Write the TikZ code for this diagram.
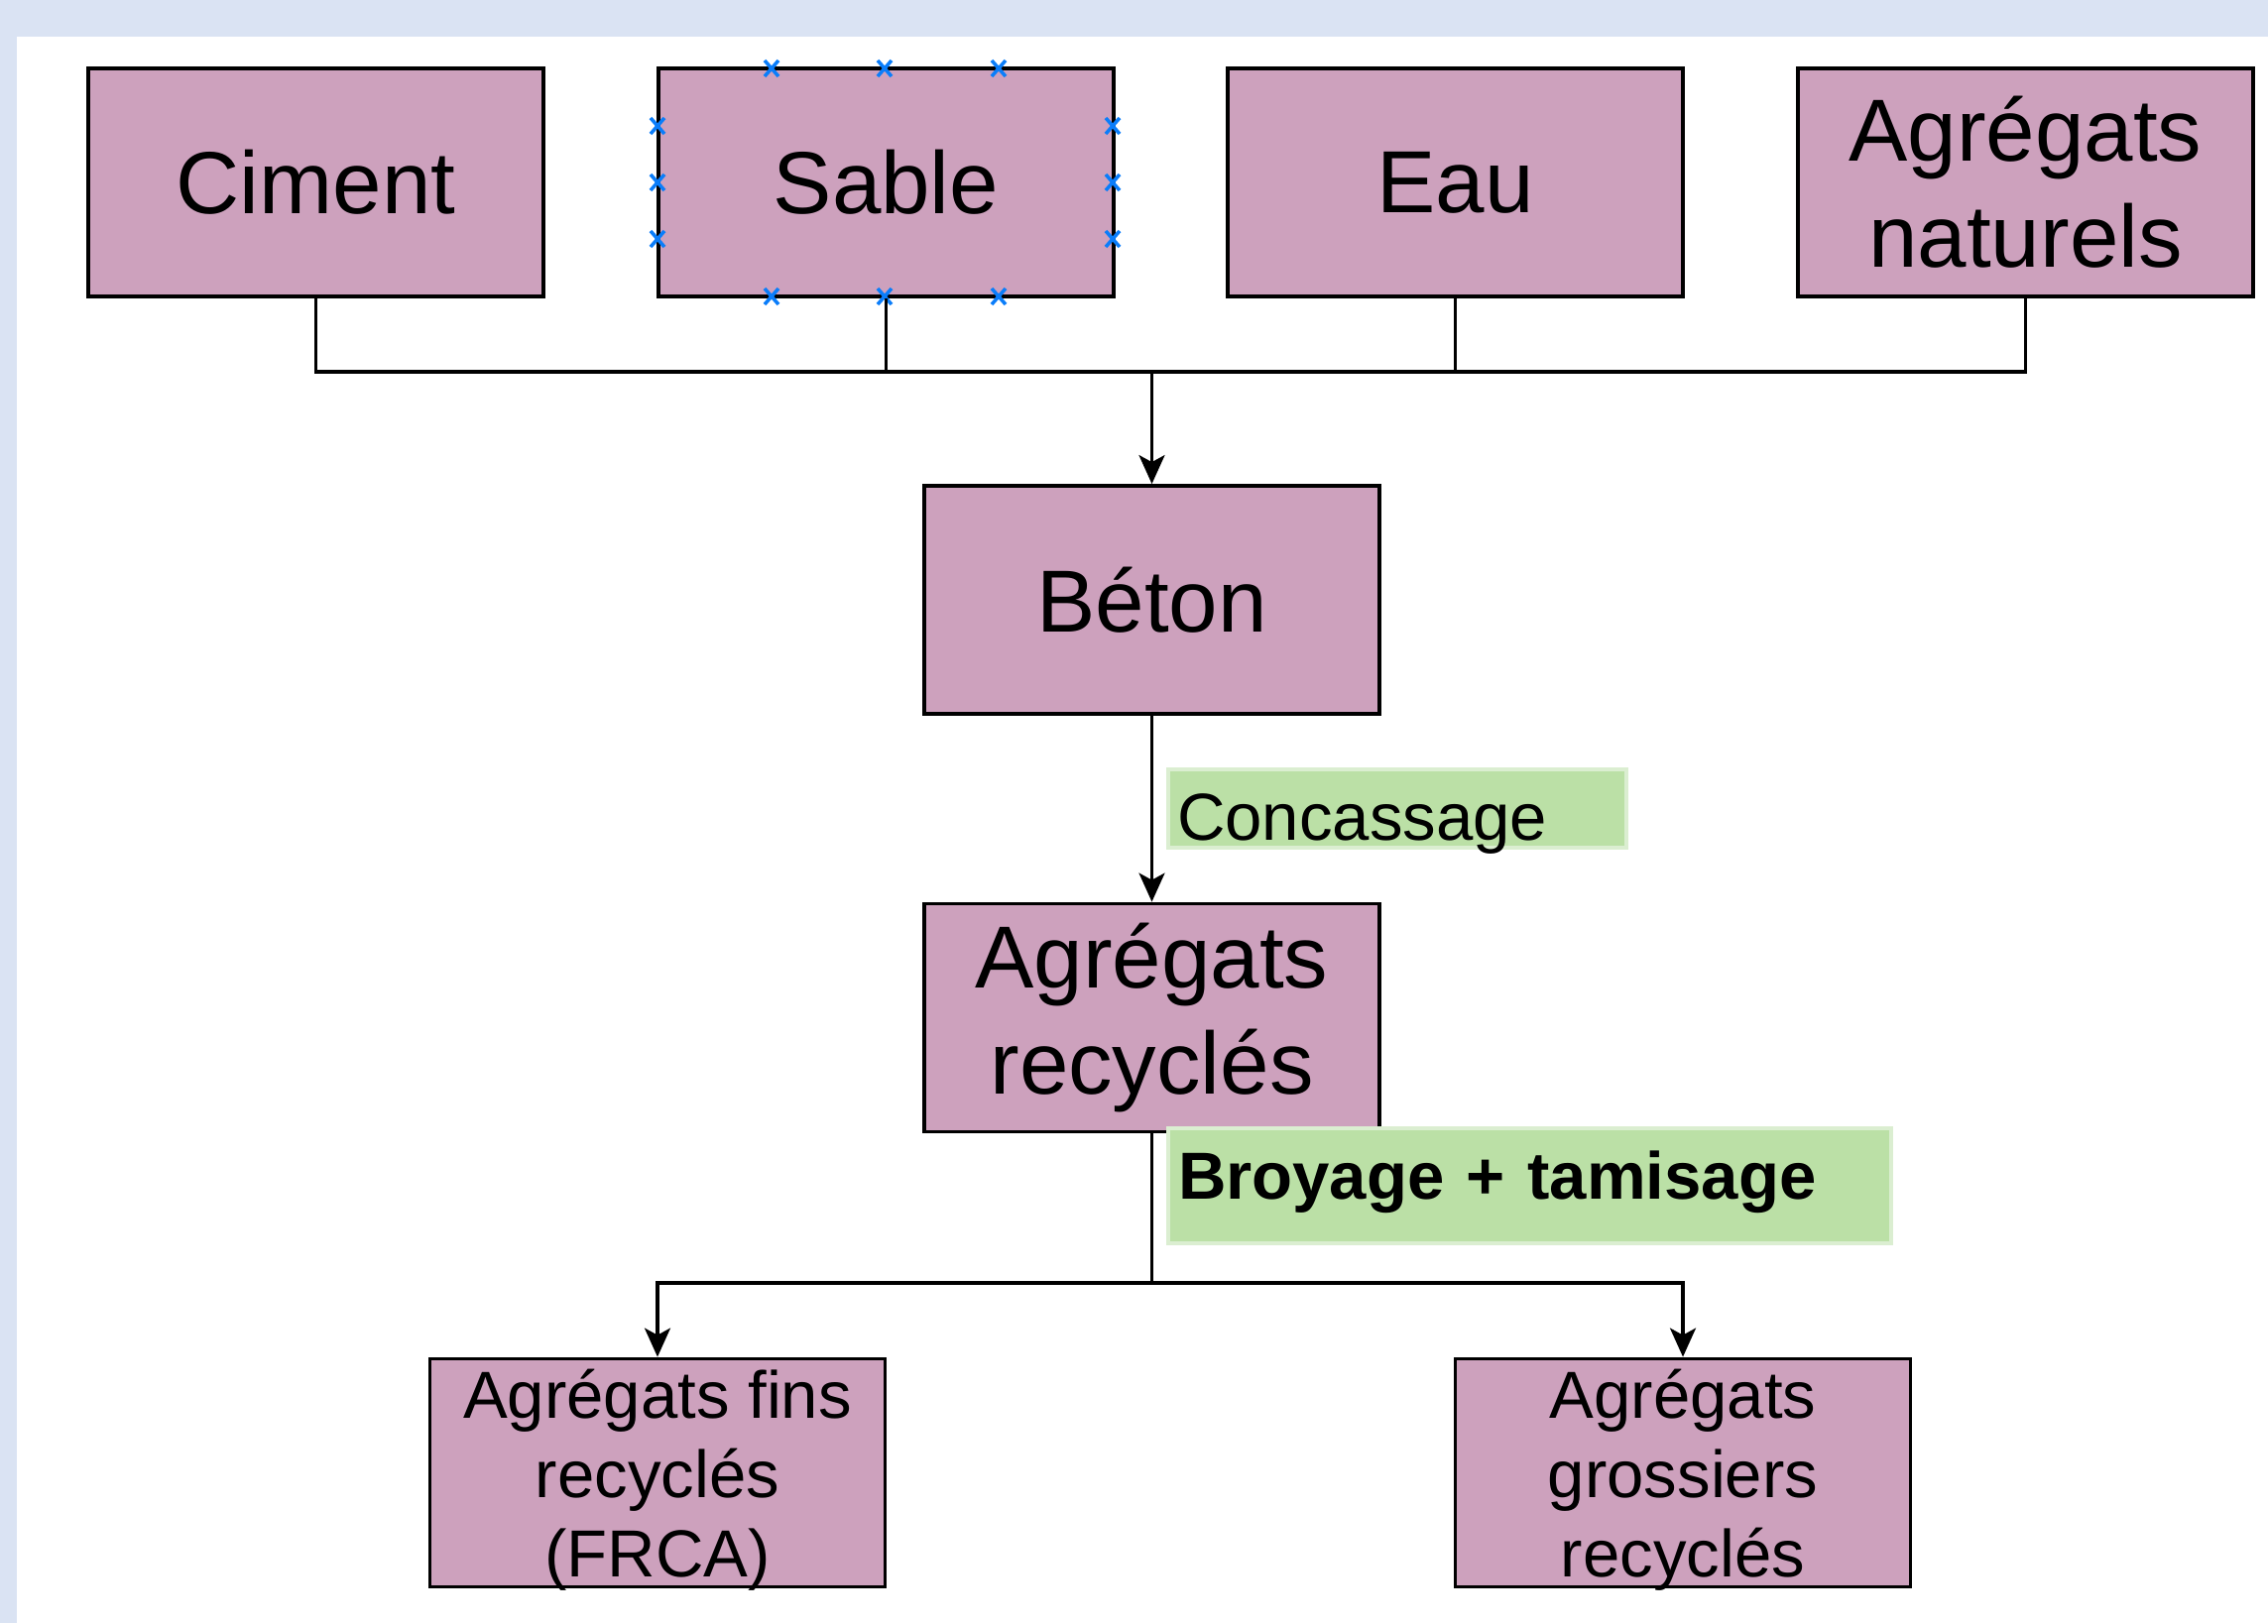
\documentclass[tikz,border=0pt]{standalone}
\usepackage{fontspec}
\setmainfont{Liberation Sans}
\usetikzlibrary{arrows.meta}

\definecolor{mauve}{RGB}{205,161,189}
\definecolor{leaf}{RGB}{187,224,166}
\definecolor{leafedge}{RGB}{219,238,209}
\definecolor{pageblue}{RGB}{218,227,243}
\definecolor{handleblue}{RGB}{10,125,250}

\begin{document}
\begin{tikzpicture}[>={Stealth[length=0.29cm,width=0.26cm,inset=0.07cm]},
    matbox/.style={draw=black, line width=1.1pt, fill=mauve, minimum width=4.59cm,
        minimum height=2.30cm, inner sep=0pt, align=center,
        font=\fontsize{25.3}{30.4}\selectfont},
    outbox/.style={matbox, text depth=0pt, font=\fontsize{19.1}{22.8}\selectfont},
    procbox/.style={draw=leafedge, line width=1.1pt, fill=leaf, inner xsep=0.09cm,
        inner ysep=0pt, align=left, text depth=0pt,
        font=\fontsize{19.1}{22.8}\selectfont},
    link/.style={line width=0.9pt},
    handle/.style={handleblue, line width=1pt}]

        %%% PAGE
        \useasboundingbox (0,0) rectangle (22.87,-16.37);
        \fill[white] (0,0) rectangle (22.87,-16.37);
        \fill[pageblue] (0,0) rectangle (22.87,-0.37);
        \fill[pageblue] (0,0) rectangle (0.17,-16.37);

        %%% INGREDIENTS
        \node[matbox] (ciment) at (3.185,-1.84) {Ciment};
        \node[matbox] (sable) at (8.935,-1.84) {Sable};
        \node[matbox] (eau) at (14.675,-1.84) {Eau};
        \node[matbox] (agrnat) at (20.425,-1.84) {Agrégats\\naturels};

        % Selection handles on Sable
        \foreach \x in {7.78,8.92,10.07}
            \foreach \y in {-0.69,-2.99}
                \draw[handle] (\x,\y) +(-0.07,-0.08) -- +(0.07,0.08)
                    +(-0.07,0.08) -- +(0.07,-0.08);
        \foreach \x in {6.63,11.22}
            \foreach \y in {-1.27,-1.84,-2.41}
                \draw[handle] (\x,\y) +(-0.07,-0.08) -- +(0.07,0.08)
                    +(-0.07,0.08) -- +(0.07,-0.08);

        %%% CONCRETE AND RECYCLING
        \node[matbox] (beton) at (11.615,-6.05) {Béton};
        \node[matbox] (recyc) at (11.615,-10.265) {Agrégats\\recyclés};

        %%% PRODUCTS
        \node[outbox] (fins) at (6.63,-14.855) {Agrégats fins\\recyclés\\(FRCA)};
        \node[outbox] (gros) at (16.97,-14.855) {Agrégats\\grossiers\\recyclés};

        %%% CONNECTORS
        \coordinate (bus) at (11.615,-3.75);
        \foreach \n in {ciment,sable,eau,agrnat}
            \draw[link] (\n.south) |- (bus);
        \draw[link,->] (bus) -- (beton.north);
        \draw[link,->] (beton.south) -- (recyc.north);

        \coordinate (split) at (11.615,-12.94);
        \draw[link] (recyc.south) -- (split);
        \draw[link,->] (split) -| (fins.north);
        \draw[link,->] (split) -| (gros.north);

        %%% PROCESS LABELS
        \node[procbox, minimum width=4.62cm, minimum height=0.79cm, text width=4.44cm,
            text height=0.63cm] (concass) at (14.09,-8.155) {Concassage};
        \node[procbox, minimum width=7.29cm, minimum height=1.16cm, text width=7.09cm,
            text height=0.26cm, font=\fontsize{19.1}{22.8}\selectfont\bfseries]
            (broyage) at (15.425,-11.96) {Broyage + tamisage};

\end{tikzpicture}
\end{document}
